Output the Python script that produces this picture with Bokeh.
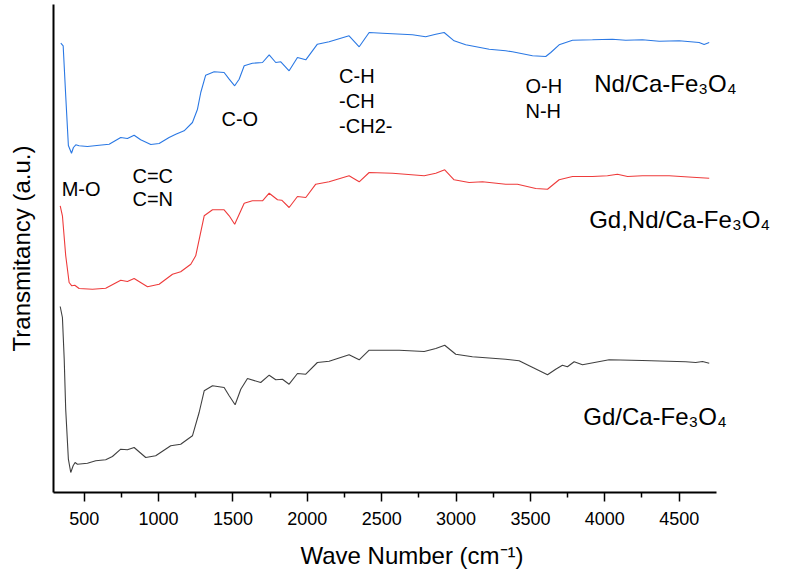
from bokeh.plotting import figure
from bokeh.models import Range1d, FixedTicker, Label
from bokeh.embed import file_html
from bokeh.resources import INLINE

# ---- data (wave number in cm^-1, transmitancy in arbitrary units) ----
wn_nd = [343, 359, 376, 394, 415, 428, 444, 466, 522, 601, 668, 746, 791, 836, 880, 948,
         1004, 1071, 1116, 1172, 1228, 1262, 1284, 1317, 1374, 1441, 1475, 1512, 1542, 1576,
         1631, 1699, 1744, 1788, 1822, 1878, 1934, 1990, 2068, 2147, 2281, 2349, 2416, 2505,
         2707, 2796, 2864, 2920, 2987, 3065, 3223, 3334, 3379, 3514, 3603, 3637, 3693, 3783,
         3917, 4051, 4141, 4253, 4366, 4500, 4634, 4668, 4702]
t_nd = [449.3, 446.7, 397, 347, 339.3, 345, 347.7, 346.7, 346, 347.3, 348.3, 355, 354, 357.3,
        352.7, 348, 349, 355, 358.3, 361.7, 370, 383.3, 400, 417.3, 420.7, 420, 413.3, 406.7,
        413.3, 426.7, 429.3, 430, 437.7, 430, 430.7, 421.7, 435, 432.7, 448.3, 450.7, 456.7,
        445.7, 460, 459.3, 457.7, 455.7, 458.3, 460, 451.7, 447.7, 443.3, 441.7, 440.7, 436.7,
        436, 440, 447.7, 452.3, 452.7, 453.3, 452.3, 452.7, 451.3, 451.7, 450, 448, 450]

wn_gdnd = [339, 354, 376, 399, 417, 437, 466, 556, 645, 746, 791, 836, 926, 1004, 1094, 1149,
           1217, 1250, 1307, 1363, 1441, 1475, 1512, 1576, 1631, 1699, 1744, 1800, 1828, 1878,
           1934, 1990, 2057, 2147, 2281, 2349, 2416, 2573, 2786, 2864, 2924, 2987, 3088, 3178,
           3334, 3413, 3536, 3615, 3693, 3783, 3917, 4018, 4085, 4153, 4253, 4433, 4590, 4702]
t_gdnd = [286.7, 276.7, 237, 210, 206.7, 207.3, 204, 203.3, 204.3, 212.3, 211, 214, 205.7,
          208.3, 218.3, 220.7, 228.3, 236.7, 276.7, 282.7, 282.7, 276.7, 268.3, 289.3, 291.7,
          291.7, 299.3, 292.7, 292.3, 285, 296, 295, 308.3, 310.7, 316.7, 310.7, 320, 319.3,
          316.7, 319.3, 322.7, 312.7, 310, 310.7, 308.3, 308.3, 304, 303.3, 312.7, 316, 316,
          316.7, 318.3, 316, 316.7, 316.7, 315.3, 314.3]

wn_gd = [339, 354, 366, 376, 394, 410, 426, 439, 455, 522, 578, 645, 690, 746, 791, 836, 914,
         981, 1082, 1149, 1228, 1273, 1307, 1363, 1441, 1475, 1515, 1553, 1598, 1687, 1744,
         1788, 1833, 1878, 1934, 1990, 2068, 2147, 2281, 2349, 2416, 2618, 2786, 2864, 2924,
         2998, 3110, 3334, 3424, 3492, 3615, 3670, 3715, 3749, 3794, 3850, 4029, 4253, 4544,
         4611, 4657, 4702]
t_gd = [186, 175, 133.3, 83.3, 33.3, 20, 26.7, 30, 28.3, 29.3, 31.7, 32.7, 36, 43.3, 42.7, 45,
        35, 36.7, 46.7, 48.3, 56.7, 80, 101.7, 106.7, 105, 96.7, 87.7, 103.3, 114, 110, 117.3,
        112.7, 113.3, 108.3, 119, 118.3, 130, 131.3, 137.7, 132.7, 142.3, 142.3, 141, 144,
        147.3, 138.3, 135.7, 133.3, 131.7, 126.7, 117.7, 123.3, 127.3, 125.7, 130.7, 127.7,
        132.7, 132, 130.7, 130, 131, 129.3]

x_ticks = [500, 1000, 1500, 2000, 2500, 3000, 3500, 4000, 4500]
x_minor = [750, 1250, 1750, 2250, 2750, 3250, 3750, 4250]
x_axis_bounds = (294, 4751)

FONT = "Liberation Sans"

p = figure(frame_width=717, frame_height=488,
           x_range=Range1d(294, 5114), y_range=Range1d(0, 488),
           output_backend="svg", toolbar_location=None,
           min_border_left=53, min_border_right=0, min_border_top=4, min_border_bottom=60)

p.line(wn_nd, t_nd, line_color="#2a78e4", line_width=1.1)
p.line(wn_gdnd, t_gdnd, line_color="#ee3b3b", line_width=1.1)
p.line(wn_gd, t_gd, line_color="#404040", line_width=1.1)

p.xgrid.visible = False
p.ygrid.visible = False
p.outline_line_color = None
p.background_fill_color = "white"
p.border_fill_color = "white"

xa = p.xaxis[0]
xa.bounds = x_axis_bounds
xa.ticker = FixedTicker(ticks=x_ticks, minor_ticks=x_minor)
xa.axis_line_width = 2
xa.axis_line_color = "black"
xa.major_tick_line_width = 1.5
xa.minor_tick_line_width = 1.5
xa.major_tick_out = 9
xa.major_tick_in = 0
xa.minor_tick_out = 5
xa.minor_tick_in = 0
xa.major_label_text_font = FONT
xa.major_label_text_font_size = "18px"
xa.major_label_text_color = "black"
xa.major_label_standoff = 10
xa.axis_label = "Wave Number (cm\u207b\u00b9)"
xa.axis_label_text_font = FONT
xa.axis_label_text_font_size = "24px"
xa.axis_label_text_font_style = "normal"
xa.axis_label_text_color = "black"
xa.axis_label_standoff = 14

ya = p.yaxis[0]
ya.ticker = FixedTicker(ticks=[])
ya.axis_line_width = 2
ya.axis_line_color = "black"
ya.major_tick_line_color = None
ya.minor_tick_line_color = None
ya.major_label_standoff = 0
ya.axis_label = "Transmitancy (a.u.)"
ya.axis_label_text_font = FONT
ya.axis_label_text_font_size = "24px"
ya.axis_label_text_font_style = "normal"
ya.axis_label_text_color = "black"
ya.axis_label_standoff = 19

annotations = [
    ("M-O", 349, 304, "20px"),
    ("C=C", 825, 317, "20px"),
    ("C=N", 825, 293.3, "20px"),
    ("C-O", 1423, 374, "20px"),
    ("C-H", 2214, 417, "20px"),
    ("-CH", 2214, 392, "20px"),
    ("-CH2-", 2214, 367, "20px"),
    ("O-H", 3467, 407, "20px"),
    ("N-H", 3467, 382, "20px"),
    ("Nd/Ca-Fe\u2083O\u2084", 3929, 409.3, "24px"),
    ("Gd,Nd/Ca-Fe\u2083O\u2084", 3895, 273.3, "24px"),
    ("Gd/Ca-Fe\u2083O\u2084", 3855, 76, "24px"),
]
for txt, x, y, fs in annotations:
    p.add_layout(Label(x=x, y=y, text=txt, text_font=FONT, text_font_size=fs,
                       text_color="black", text_align="left", text_baseline="alphabetic"))

open("out.html", "w").write(file_html(p, INLINE))
